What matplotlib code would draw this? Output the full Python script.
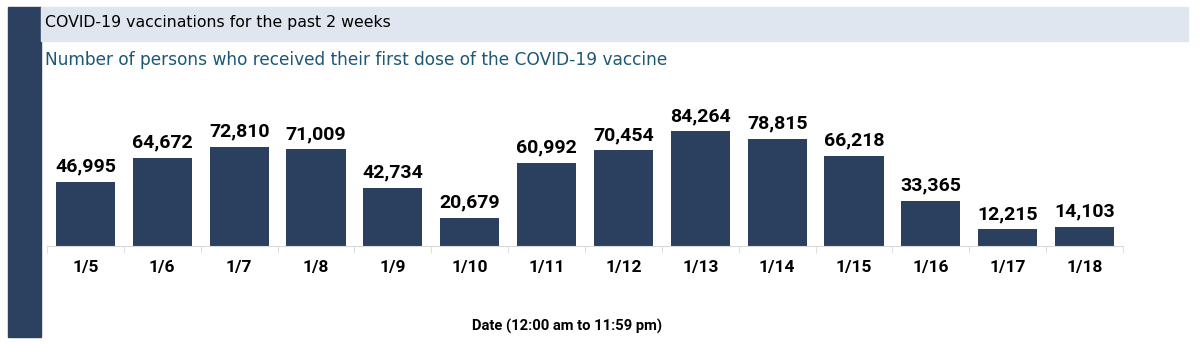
import numpy as np
import matplotlib.pyplot as plt
from matplotlib.patches import Rectangle

dates = ['1/5', '1/6', '1/7', '1/8', '1/9', '1/10', '1/11', '1/12', '1/13',
         '1/14', '1/15', '1/16', '1/17', '1/18']
first_doses = [46995, 64672, 72810, 71009, 42734, 20679, 60992, 70454, 84264,
               78815, 66218, 33365, 12215, 14103]

title = 'COVID-19 vaccinations for the past 2 weeks'
subtitle = 'Number of persons who received their first dose of the COVID-19 vaccine'
xlabel = 'Date (12:00 am to 11:59 pm)'

navy = '#2b3f5e'
narrow = ['Roboto', 'DejaVu Sans']

fig = plt.figure(figsize=(12, 3.44), dpi=100)

# left dark strip and title banner
fig.patches.append(Rectangle((8 / 1200, 1 - 337 / 344), 33 / 1200, 330 / 344,
                             transform=fig.transFigure, color='#2c4160', zorder=0))
fig.patches.append(Rectangle((41 / 1200, 1 - 41 / 344), 1147 / 1200, 34 / 344,
                             transform=fig.transFigure, color='#dfe6ef', zorder=0))
fig.text(45 / 1200, 1 - 23 / 344, title, fontsize=11.3, color='black',
         va='center', ha='left', family='DejaVu Sans')
fig.text(45 / 1200, 1 - 60 / 344, subtitle, fontsize=12.25, color='#1d5876',
         va='center', ha='left', family='DejaVu Sans')

ax = fig.add_axes([47 / 1200, 1 - 246 / 344, 1076 / 1200, 166 / 344])
x = np.arange(len(dates))
bars = ax.bar(x, first_doses, width=0.77, color=navy)
for b, v in zip(bars, first_doses):
    ax.text(b.get_x() + b.get_width() / 2, v + 4500, f'{v:,}', ha='center',
            va='bottom', fontsize=14, fontweight='bold', family=narrow)

ax.set_xlim(-0.5, len(dates) - 0.5)
ax.set_ylim(0, 122000)
ax.set_yticks([])
for s in ['top', 'right', 'left']:
    ax.spines[s].set_visible(False)
ax.spines['bottom'].set_color('#d9d9d9')
ax.set_xticks(x)
ax.set_xticklabels(dates, fontsize=12.5, fontweight='bold', family=narrow)
ax.tick_params(axis='x', which='major', length=0, pad=10)
ax.set_xticks(np.arange(-0.5, len(dates)), minor=True)
ax.tick_params(axis='x', which='minor', length=5, color='#d9d9d9')

fig.text(567 / 1200, 1 - 326 / 344, xlabel, ha='center', va='center',
         fontsize=10.6, fontweight='bold', family=narrow)

fig.savefig('out.png', dpi=100)
